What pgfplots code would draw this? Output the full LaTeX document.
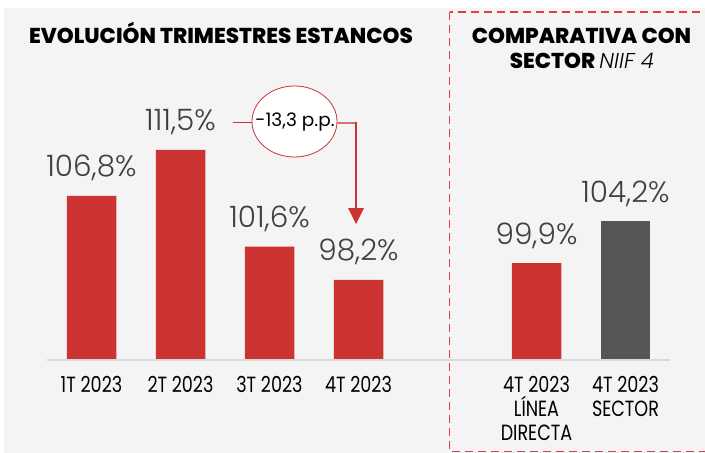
\documentclass[border=0pt]{standalone}
\usepackage{pgfplots}
\pgfplotsset{compat=1.18}
\usepackage{fontspec}
\setmainfont{Poppins}
\newfontfamily\lightfont{Poppins Light}
\newfontfamily\heavyfont{Poppins ExtraBold}
\newfontfamily\catfont[FakeStretch=0.8]{Poppins}
\definecolor{bg}{HTML}{F4F4F4}
\definecolor{barred}{HTML}{CC3333}
\definecolor{bargray}{HTML}{555555}
\definecolor{valtext}{HTML}{404040}
\definecolor{baselinecol}{HTML}{D9D9D9}
\definecolor{dashred}{HTML}{E03C41}
\begin{document}
\begin{tikzpicture}
\begin{scope}[x=1pt,y=-1pt]
\useasboundingbox (0,0) rectangle (705,453);
\fill[bg] (4,8) rectangle (706,454);
\draw[dashred, line width=1.8pt, dash pattern=on 8pt off 5pt] (449.5,12) rectangle (720,451.5);
\node[font=\heavyfont\fontsize{21.5}{24}\selectfont, anchor=base, inner sep=0pt] at (221,43) {EVOLUCIÓN TRIMESTRES ESTANCOS};
\node[font=\heavyfont\fontsize{21.5}{24}\selectfont, anchor=base, inner sep=0pt] at (581.5,43) {COMPARATIVA CON};
\node[font=\heavyfont\fontsize{21.5}{24}\selectfont, anchor=base, inner sep=0pt] at (582,68) {SECTOR {\lightfont\itshape NIIF 4}};
\end{scope}
\begin{axis}[
  at={(47pt,-360pt)}, anchor=south west,
  scale only axis, width=623pt, height=307.9pt,
  xmin=-0.5, xmax=6.5, ymin=90, ymax=121.5,
  clip=false,
  axis line style={draw=none},
  ytick=\empty,
  xtick={0,1,2,3,5,6},
  xticklabels={1T 2023,2T 2023,3T 2023,4T 2023,{4T 2023\\LÍNEA\\DIRECTA},{4T 2023\\SECTOR}},
  xticklabel style={font=\catfont\fontsize{22}{24}\selectfont, align=center, inner sep=0pt, yshift=-16pt, text=black},
  major tick length=0pt,
  ybar, bar width=49.5pt,
  nodes near coords={\pgfmathprintnumber[fixed,fixed zerofill,precision=1,use comma,assume math mode=true]{\pgfplotspointmeta}\%},
  every node near coord/.append style={font=\lightfont\fontsize{29.5}{32}\selectfont, text=valtext, anchor=base, yshift=19pt},
]
\addplot[fill=barred, draw=none, bar shift=0pt] coordinates {(0,106.8) (1,111.5) (2,101.6) (3,98.2) (5,99.9)};
\addplot[fill=bargray, draw=none, bar shift=0pt] coordinates {(6,104.2)};
\draw[baselinecol, line width=2pt] (axis cs:-0.5,90) -- (axis cs:6.5,90);
\end{axis}
\begin{scope}[x=1pt,y=-1pt]
\draw[barred, line width=1pt] (233,122.5) -- (252,122.5);
\filldraw[fill=white, draw=barred, line width=0.8pt] (294.5,121.5) ellipse [x radius=42.5, y radius=35.5];
\node[font=\fontsize{18.5}{20}\selectfont, text=black] at (295,122) {-13,3 p.p.};
\draw[barred!70, line width=2pt] (337,123) -- (357,123);
\draw[barred, line width=2pt] (356,122) -- (356,210);
\fill[barred] (348,208) -- (364,208) -- (356,224) -- cycle;
\end{scope}
\end{tikzpicture}
\end{document}
